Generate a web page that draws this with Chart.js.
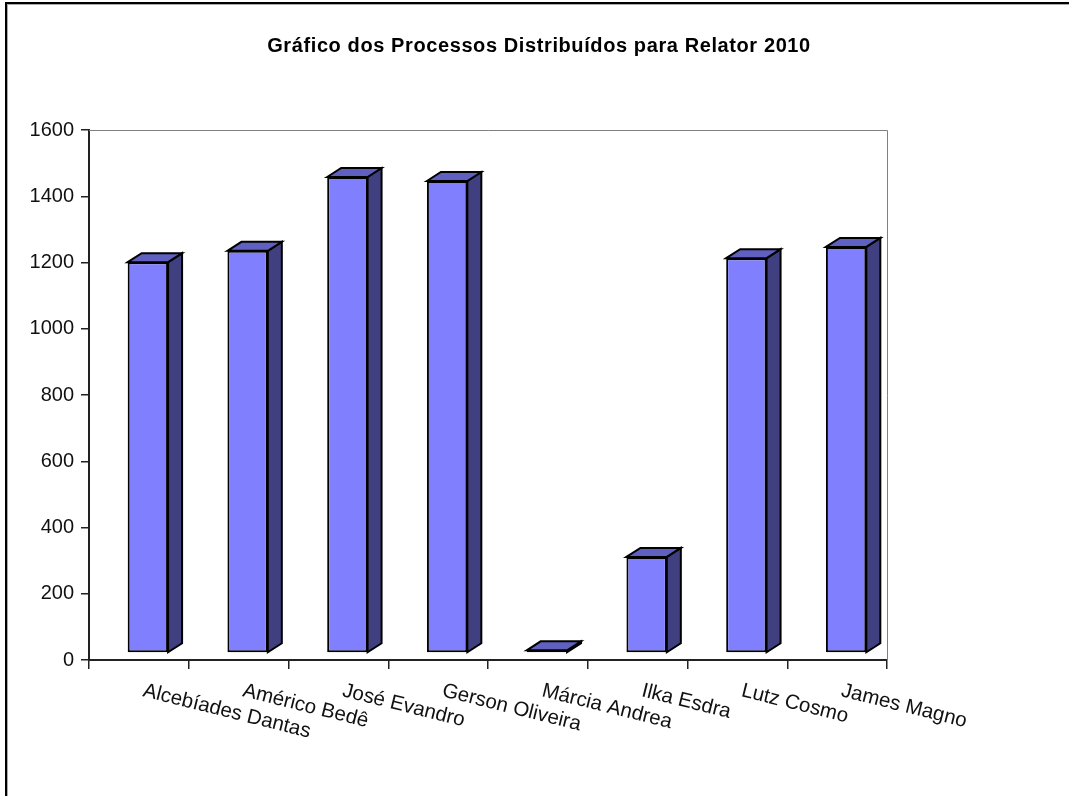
<!DOCTYPE html>
<html>
<head>
<meta charset="utf-8">
<title>Processos Distribuídos</title>
<script src="https://cdn.jsdelivr.net/npm/chart.js@4/dist/chart.umd.min.js"></script>
<style>
  html, body { margin: 0; padding: 0; background: #fff; overflow: hidden; }
  #wrap { position: relative; width: 1069px; height: 796px; overflow: hidden; }
  #frame { position: absolute; left: 5px; top: 2px; width: 1100px; height: 850px; border: 2px solid #000; box-shadow: inset 1px 1px 0 #aaa; }
  canvas { position: absolute; left: 0; top: 0; }
</style>
</head>
<body>
<div id="wrap">
  <div id="frame"></div>
  <canvas id="chart" width="1069" height="796"></canvas>
</div>
<script>
const chartTitle = "Gráfico dos Processos Distribuídos para Relator 2010";
const relatores = ["Alcebíades Dantas", "Américo Bedê", "José Evandro", "Gerson Oliveira", "Márcia Andrea", "Ilka Esdra", "Lutz Cosmo", "James Magno"];
const processos = [1180, 1214, 1437, 1425, 8, 290, 1192, 1226];

// fake 3D look of the old Excel chart
const frontDx = 9, frontDy = -7;
const depthX = 14, depthY = 9;

const excel3d = {
  id: "excel3d",
  beforeDraw(chart) {
    // the original title is wider than any plain bold size
    chart.ctx.letterSpacing = "0.6px";
  },
  beforeDatasetsDraw(chart) {
    const { ctx, chartArea: a } = chart;
    ctx.letterSpacing = "0px";
    ctx.save();
    ctx.strokeStyle = "#808080";
    ctx.lineWidth = 1;
    ctx.beginPath();
    ctx.moveTo(a.left, a.top + 0.5);
    ctx.lineTo(a.right + 0.5, a.top + 0.5);
    ctx.lineTo(a.right + 0.5, a.bottom);
    ctx.stroke();
    ctx.restore();

    ctx.save();
    ctx.translate(frontDx, frontDy);
    ctx.strokeStyle = "#000";
    ctx.lineWidth = 2;
    ctx.lineJoin = "miter";
    chart.getDatasetMeta(0).data.forEach(bar => {
      const r = bar.x + bar.width / 2, l = bar.x - bar.width / 2;
      ctx.fillStyle = "#404080";
      ctx.beginPath();
      ctx.moveTo(r, bar.y);
      ctx.lineTo(r + depthX, bar.y - depthY);
      ctx.lineTo(r + depthX, bar.base - depthY);
      ctx.lineTo(r, bar.base);
      ctx.closePath();
      ctx.fill();
      ctx.stroke();
      ctx.fillStyle = "#6060C0";
      ctx.beginPath();
      ctx.moveTo(l, bar.y);
      ctx.lineTo(l + depthX, bar.y - depthY);
      ctx.lineTo(r + depthX, bar.y - depthY);
      ctx.lineTo(r, bar.y);
      ctx.closePath();
      ctx.fill();
      ctx.stroke();
    });
  },
  afterDatasetsDraw(chart) {
    chart.ctx.restore();
  },
  // labels slope downwards to the right, chart.js only right-aligns rotated ticks
  afterDraw(chart) {
    const { ctx, scales, chartArea } = chart;
    ctx.save();
    ctx.fillStyle = "#111";
    ctx.font = '20.5px "Liberation Sans", Arial, sans-serif';
    ctx.textAlign = "left";
    ctx.textBaseline = "alphabetic";
    relatores.forEach((name, i) => {
      ctx.save();
      ctx.translate(scales.x.getPixelForValue(i) + 3, chartArea.bottom + 36);
      ctx.rotate(14 * Math.PI / 180);
      ctx.fillText(name, 0, 0);
      ctx.restore();
    });
    ctx.restore();
  }
};

new Chart(document.getElementById("chart"), {
  type: "bar",
  data: {
    labels: relatores,
    datasets: [{
      data: processos,
      backgroundColor: "#8080FF",
      borderColor: "#000",
      borderWidth: 2,
      borderSkipped: false,
      barPercentage: 0.405,
      categoryPercentage: 1,
      clip: false
    }]
  },
  plugins: [excel3d],
  options: {
    responsive: false,
    animation: false,
    layout: { padding: { left: 9 } },
    plugins: {
      legend: { display: false },
      tooltip: { enabled: false },
      title: {
        display: true,
        text: chartTitle,
        color: "#000",
        font: { family: '"Liberation Sans", Arial, sans-serif', size: 20, weight: "bold" },
        padding: { top: 34, bottom: 72 }
      }
    },
    scales: {
      x: {
        afterFit: s => { s.height = 136; },
        ticks: { display: false },
        border: { color: "#222", width: 2 },
        grid: { drawOnChartArea: false, color: "#222", tickLength: 9, lineWidth: 1.5 }
      },
      y: {
        min: 0,
        max: 1600,
        afterFit: s => { s.width = 80; },
        ticks: {
          stepSize: 200,
          color: "#111",
          padding: 7,
          z: 1,
          format: { useGrouping: false },
          font: { family: '"Liberation Sans", Arial, sans-serif', size: 20 }
        },
        border: { color: "#222", width: 2 },
        grid: { drawOnChartArea: false, color: "#222", tickLength: 8, lineWidth: 1.5 }
      },
      // empty scale only to reserve the white strip right of the plot
      spare: {
        position: "right",
        afterFit: s => { s.width = 182; },
        ticks: { display: false },
        border: { display: false },
        grid: { display: false }
      }
    }
  }
});
</script>
</body>
</html>
